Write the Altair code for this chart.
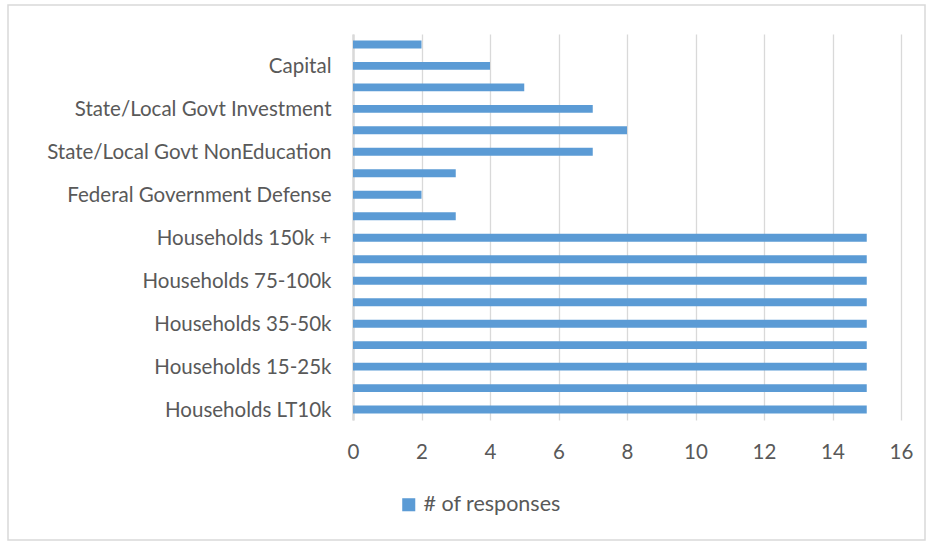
import altair as alt
import pandas as pd

categories = [
    "Enterprises",
    "Capital",
    "Inventory Additions/Deletions",
    "State/Local Govt Investment",
    "State/Local Govt Education",
    "State/Local Govt NonEducation",
    "Federal Government Investment",
    "Federal Government Defense",
    "Federal Government NonDefense",
    "Households 150k +",
    "Households 100-150k",
    "Households 75-100k",
    "Households 50-75k",
    "Households 35-50k",
    "Households 25-35k",
    "Households 15-25k",
    "Households 10-15k",
    "Households LT10k",
]
responses = [2, 4, 5, 7, 8, 7, 3, 2, 3, 15, 15, 15, 15, 15, 15, 15, 15, 15]
shown_labels = categories[1::2]
x_ticks = [0, 2, 4, 6, 8, 10, 12, 14, 16]
series_name = "# of responses"

df = pd.DataFrame({"category": categories, "responses": responses, "series": series_name})

FONT = "Lato"
TXT = "#595959"
GRID = "#d9d9d9"
BLUE = "#5b9bd5"

bars = alt.Chart(df).mark_bar(color=BLUE).encode(
    x=alt.X("responses:Q",
            scale=alt.Scale(domain=[0, 16], nice=False, zero=True),
            axis=alt.Axis(values=x_ticks, title=None, domain=False, ticks=False,
                          grid=True, gridColor=GRID, gridWidth=1.3,
                          labelFontSize=20.5, labelColor=TXT, labelFont=FONT,
                          labelFlush=False, labelPadding=22)),
    y=alt.Y("category:N", sort=categories,
            scale=alt.Scale(paddingInner=0.63, paddingOuter=0.3),
            axis=alt.Axis(values=shown_labels, title=None, ticks=False,
                          domain=True, domainColor=GRID, domainWidth=2.5,
                          labelFontSize=20.5, labelColor=TXT, labelFont=FONT,
                          labelOffset=1.5,
                          labelPadding=22, labelLimit=400)),
    color=alt.Color("series:N",
                    scale=alt.Scale(domain=[series_name], range=[BLUE]),
                    legend=alt.Legend(title=None, orient="none", legendX=45, legendY=460,
                                      symbolType="square", symbolSize=170,
                                      symbolStrokeWidth=0,
                                      labelFontSize=21.5, labelColor=TXT, labelFont=FONT,
                                      labelOffset=4)),
)

border = alt.Chart(pd.DataFrame({"a": [0]})).mark_rect(
    fill=None, stroke=GRID, strokeWidth=1.5, clip=False
).encode(
    x=alt.value(-345), x2=alt.value(572), y=alt.value(-29), y2=alt.value(506)
)

chart = alt.layer(border, bars).properties(
    width=548, height=386,
    padding={"left": 353, "top": 34, "right": 31, "bottom": 122},
    autosize=alt.AutoSizeParams(type="none"),
    background="white",
).configure_view(stroke=None)

chart.save("out.html", embed_options={"renderer": "svg", "actions": False})
